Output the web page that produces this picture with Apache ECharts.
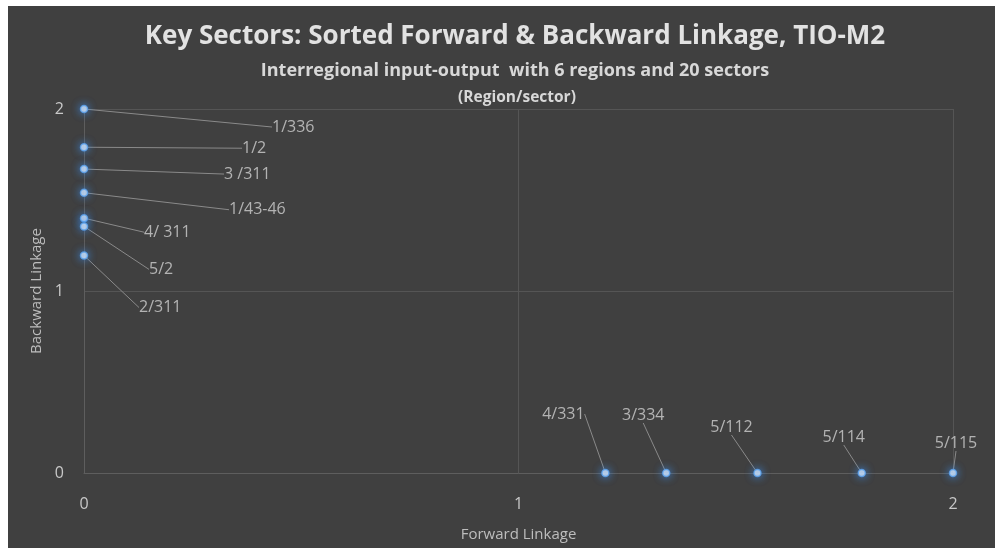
<!DOCTYPE html>
<html>
<head>
    <meta charset="utf8">
    <title>Key Sectors</title>
    <script src="https://cdn.jsdelivr.net/npm/echarts@6/dist/echarts.min.js"></script>
    <style>
        body { margin: 0; background: #fff; }
        #main { position: absolute; left: 8px; top: 6px; width: 987px; height: 542px; }
    </style>
</head>
<body>
    <div id="main"></div>
    <script type="text/javascript">
        // region/sector labels and linkage values
        var sectors  = ['1/336', '1/2', '3 /311', '1/43-46', '4/ 311', '5/2', '2/311',
                        '4/331', '3/334', '5/112', '5/114', '5/115'];
        var forward  = [0, 0, 0, 0, 0, 0, 0, 1.2, 1.34, 1.55, 1.79, 2.0];
        var backward = [2.0, 1.79, 1.67, 1.54, 1.4, 1.355, 1.195, 0, 0, 0, 0, 0];
        var ticks = [0, 1, 2];

        // where each label sits relative to its point (pixels), and its alignment
        var labelShift = [
            [188, 18, 'left'], [158, 1, 'left'], [140, 5, 'left'], [145, 17, 'left'],
            [60, 14, 'left'], [65, 43, 'left'], [55, 52, 'left'],
            [-42, -59, 'center'], [-23, -58, 'center'], [-26, -46, 'center'],
            [-18, -36, 'center'], [3, -30, 'center']
        ];

        var points = [];
        for (var i = 0; i < sectors.length; i++) {
            points.push({ value: [forward[i], backward[i]], name: sectors[i] });
        }

        var font = 'Open Sans';
        var myChart = echarts.init(document.getElementById('main'));
        var option = {
            backgroundColor: '#404040',
            textStyle: { fontFamily: font },
            title: [
                {
                    text: 'Key Sectors: Sorted Forward & Backward Linkage, TIO-M2',
                    left: 502, top: 13, textAlign: 'center',
                    textStyle: { color: '#e2e2e2', fontSize: 26, fontWeight: 'bold', fontFamily: font }
                },
                {
                    text: 'Interregional input-output  with 6 regions and 20 sectors',
                    left: 502, top: 51, textAlign: 'center',
                    textStyle: { color: '#d8d8d8', fontSize: 18, fontWeight: 'bold', fontFamily: font }
                },
                {
                    text: '(Region/sector)',
                    left: 504, top: 79, textAlign: 'center',
                    textStyle: { color: '#d8d8d8', fontSize: 15.5, fontWeight: 'bold', fontFamily: font }
                }
            ],
            grid: { left: 76, right: 42, top: 103, bottom: 75 },
            xAxis: {
                type: 'value', min: ticks[0], max: ticks[ticks.length - 1], interval: 1,
                name: 'Forward Linkage', nameLocation: 'middle', nameGap: 54,
                nameTextStyle: { color: '#bdbdbd', fontSize: 15 },
                axisLine: { lineStyle: { color: '#5e5e5e' } },
                axisTick: { show: false },
                axisLabel: { color: '#c8c8c8', fontSize: 16, margin: 23 },
                splitLine: { lineStyle: { color: '#555555' } }
            },
            yAxis: {
                type: 'value', min: ticks[0], max: ticks[ticks.length - 1], interval: 1,
                name: 'Backward Linkage', nameLocation: 'middle', nameGap: 40,
                nameTextStyle: { color: '#bdbdbd', fontSize: 15 },
                axisLine: { show: true, lineStyle: { color: '#5e5e5e' } },
                axisTick: { show: false },
                axisLabel: { color: '#c8c8c8', fontSize: 16, margin: 20 },
                splitLine: { lineStyle: { color: '#555555' } }
            },
            series: [{
                type: 'scatter',
                data: points,
                symbolSize: 7,
                clip: false,
                itemStyle: {
                    color: '#e8f3ff',
                    borderColor: '#5aa2f0',
                    borderWidth: 1.5,
                    shadowBlur: 9,
                    shadowColor: 'rgba(60,150,255,1)'
                },
                label: {
                    show: true,
                    position: 'inside',
                    formatter: '{b}',
                    color: '#cfcfcf',
                    fontSize: 16
                },
                labelLine: {
                    show: true,
                    lineStyle: { color: '#8a8a8a', width: 1 }
                },
                labelLayout: function (params) {
                    var s = labelShift[params.dataIndex];
                    var cx = params.rect.x + params.rect.width / 2;
                    var cy = params.rect.y + params.rect.height / 2;
                    return {
                        x: cx + s[0],
                        y: cy + s[1],
                        align: s[2],
                        verticalAlign: 'middle'
                    };
                }
            }]
        };
        myChart.setOption(option);
    </script>
</body>
</html>
